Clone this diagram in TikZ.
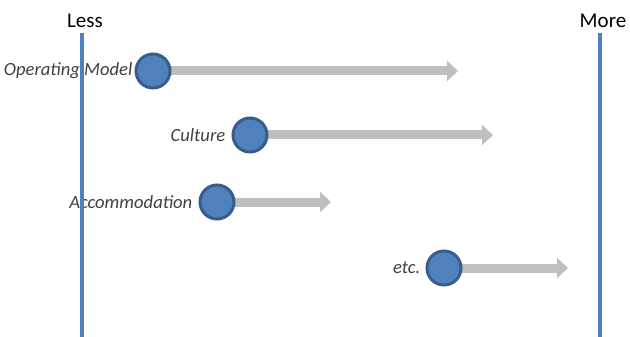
\documentclass[tikz,border=0pt]{standalone}
\usepackage{fontspec}
\setmainfont{Carlito}
\usetikzlibrary{arrows.meta, positioning, backgrounds}
\definecolor{axisblue}{HTML}{4F81BD}
\definecolor{dotline}{HTML}{385D8A}
\definecolor{arrowgray}{HTML}{BFBFBF}
\definecolor{labelgray}{HTML}{404040}
\tikzstyle{dot} = [draw=dotline, fill=axisblue, circle, line width=3pt, minimum size=34pt, inner sep=0pt]
\tikzstyle{lbl} = [font=\fontsize{18.6}{20}\selectfont\itshape, text=labelgray, inner sep=0pt]
\tikzstyle{ends} = [font=\fontsize{21}{24}\selectfont, inner sep=0pt]
\tikzstyle{bar} = [axisblue, line width=4pt]
\tikzstyle{move} = [arrowgray, line width=9pt, -{Triangle[length=11pt, width=20pt]}]

\begin{document}
\begin{tikzpicture}[x=1pt, y=-1pt]
    \useasboundingbox (0,0) rectangle (630,337);

    % Place the dots and their labels
    \node [dot] (opm) at (153,71) {};
    \node [lbl, left=2pt of opm] (opmtext) {Operating Model};
    \node [dot] (cult) at (250,135) {};
    \node [lbl, left=6pt of cult] (culttext) {Culture};
    \node [dot] (acc) at (217,202) {};
    \node [lbl, left=6pt of acc] (acctext) {Accommodation};
    \node [dot] (etc) at (444,268) {};
    \node [lbl, left=5pt of etc] (etctext) {etc.};

    % Place the ends of the scale
    \node [ends, anchor=base] (less) at (85,28) {Less};
    \node [ends, anchor=base] (more) at (603,28) {More};
    \coordinate (lesstop) at (82,33);
    \coordinate (lessbot) at (82,337);
    \coordinate (moretop) at (600,33);
    \coordinate (morebot) at (600,337);
    \draw [bar] (lesstop) -- (lessbot);
    \draw [bar] (moretop) -- (morebot);

    % Arrow tips
    \coordinate (opmtip) at (458,71);
    \coordinate (culttip) at (493,135);
    \coordinate (acctip) at (331,202);
    \coordinate (etctip) at (568,268);

    % Connect the dots to the tips
    \begin{scope}[on background layer]
        \draw [move] (opm.center) -- (opmtip);
        \draw [move] (cult.center) -- (culttip);
        \draw [move] (acc.center) -- (acctip);
        \draw [move] (etc.center) -- (etctip);
    \end{scope}
\end{tikzpicture}
\end{document}
